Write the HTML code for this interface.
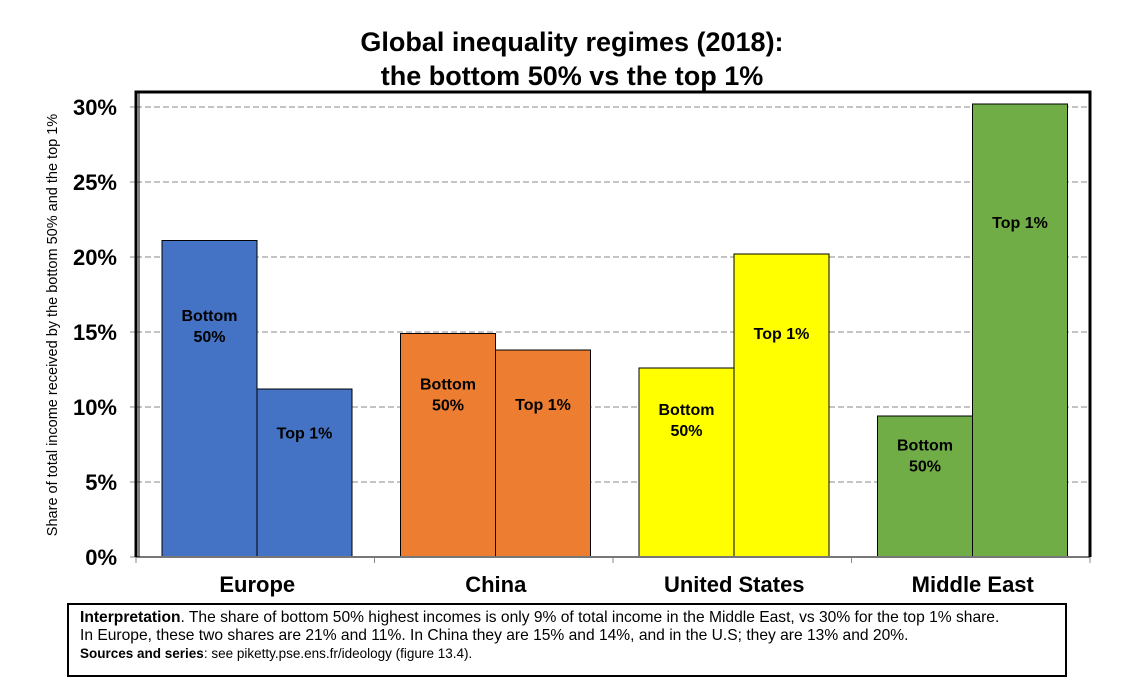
<!DOCTYPE html>
<html><head><meta charset="utf-8"><style>
body{margin:0;background:#fff;font-family:"Liberation Sans",Arial,sans-serif;}
#wrap{position:relative;width:1123px;height:696px;overflow:hidden;}
.note{position:absolute;left:67px;top:603px;width:1000px;height:74px;border:2px solid #000;box-sizing:border-box;padding:4px 11px;font-size:15.6px;line-height:18px;color:#000;}
</style></head><body>
<div id="wrap">
<svg id="svg" width="1123" height="600" style="position:absolute;left:0;top:0">
<text x="572" y="51" text-anchor="middle" font-size="27" font-weight="bold">Global inequality regimes (2018):</text>
<text x="572" y="85" text-anchor="middle" font-size="27" font-weight="bold">the bottom 50% vs the top 1%</text>
<text transform="translate(57,325) rotate(-90)" text-anchor="middle" font-size="14.5">Share of total income received by the bottom 50% and the top 1%</text>
<g id="grid"></g><g id="bars"></g><g id="axes"></g>
</svg>
<div class="note"><b>Interpretation</b>. The share of bottom 50% highest incomes is only 9% of total income in the Middle East, vs 30% for the top 1% share.<br>In Europe, these two shares are 21% and 11%. In China they are 15% and 14%, and in the U.S; they are 13% and 20%.<br><span style="font-size:13.5px"><b>Sources and series</b>: see piketty.pse.ens.fr/ideology (figure 13.4).</span></div>
</div>
<script>
const categories=["Europe","China","United States","Middle East"];
const bottom50=[21.1,14.9,12.6,9.4];
const top1=[11.2,13.8,20.2,30.2];
const colors=["#4472C4","#ED7D31","#FFFF00","#70AD47"];
const yTicks=[0,5,10,15,20,25,30];
const NS="http://www.w3.org/2000/svg";
const X0=136,X1=1090,Y0=557,PX=15;
const cw=(X1-X0)/categories.length;
const y=v=>Y0-v*PX;
function mk(tag,attrs,parent,txt){const e=document.createElementNS(NS,tag);for(const k in attrs)e.setAttribute(k,attrs[k]);if(txt!==undefined)e.textContent=txt;parent.appendChild(e);return e;}
const grid=document.getElementById('grid'),bars=document.getElementById('bars'),axes=document.getElementById('axes');
yTicks.forEach(t=>{
 if(t>0){const l=mk('line',{x1:X0,x2:X1,y1:y(t),y2:y(t),stroke:'#888','stroke-dasharray':'6,3','stroke-width':1},grid);
 
 }
 const tk=mk('line',{x1:X0-6,x2:X0,y1:y(t),y2:y(t),stroke:'#888'},axes);
 
 
 const tx=mk('text',{x:117,y:y(t)+8,'text-anchor':'end','font-size':22,'font-weight':'bold'},axes,t+'%');
 
 
});
categories.forEach((c,i)=>{
 const gx=X0+i*cw+26,bw=95;
 [[bottom50[i],'Bottom','50%','bottom50'],[top1[i],'Top 1%',null,'top1']].forEach((d,j)=>{
  const bx=gx+j*bw;
  const r=mk('rect',{x:bx,y:y(d[0]),width:bw,height:d[0]*PX,fill:colors[i],stroke:'#000','stroke-width':1},bars);
  
  
  const ly=y(d[0]*0.74)+(d[2]?-2:6);
  const t=mk('text',{x:bx+bw/2,y:ly,'text-anchor':'middle','font-size':16,'font-weight':'bold'},bars,d[1]);
  
  
  if(d[2]){const t2=mk('text',{x:bx+bw/2,y:ly+21,'text-anchor':'middle','font-size':16,'font-weight':'bold'},bars,d[2]);
  
  }
 });
 const cl=mk('text',{x:X0+i*cw+cw/2+2,y:592,'text-anchor':'middle','font-size':22,'font-weight':'bold'},axes,c);
 
 
});
for(let i=0;i<=categories.length;i++){const t=mk('line',{x1:X0+i*cw,x2:X0+i*cw,y1:Y0,y2:Y0+6,stroke:'#888'},axes);
 
 }
const f1=mk('line',{x1:X0,x2:X1,y1:Y0,y2:Y0,stroke:'#777','stroke-width':2},axes);


const f2=mk('path',{d:`M${X0},${Y0} V92 H${X1} V${Y0}`,fill:'none',stroke:'#000','stroke-width':3},axes);


const f3=mk('line',{x1:X0+3,x2:X0+3,y1:93,y2:Y0,stroke:'#000','stroke-width':1},axes);


</script>
</body></html>
